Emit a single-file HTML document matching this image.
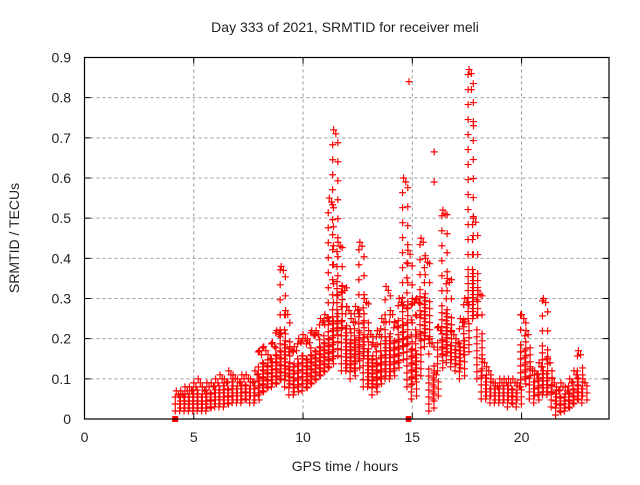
<!DOCTYPE html>
<html><head><meta charset="utf-8"><style>
body{margin:0;background:#fff;width:640px;height:480px;overflow:hidden}
text{font-family:"Liberation Sans",sans-serif;font-size:14px;fill:#222}
</style></head><body>
<svg id="chart" width="640" height="480">
<text x="345" y="32" text-anchor="middle">Day 333 of 2021, SRMTID for receiver meli</text>
<text x="345" y="471" text-anchor="middle">GPS time / hours</text>
<text transform="translate(19,238) rotate(-90)" text-anchor="middle">SRMTID / TECUs</text>
<g id="grid"></g>
<g id="marks"></g>
<rect x="84.5" y="57.5" width="524.5" height="361.5" fill="none" stroke="#000" stroke-width="1.2"/>
<g id="ticks"></g>
</svg>
<script>
const binTimes=[4.2,4.4,4.6,4.8,5.0,5.2,5.4,5.6,5.8,6.0,6.2,6.4,6.6,6.8,7.0,7.2,7.4,7.6,7.8,8.0,8.2,8.4,8.6,8.8,9.0,9.2,9.4,9.6,9.8,10.0,10.2,10.4,10.6,10.8,11.0,11.2,11.4,11.6,11.8,12.0,12.2,12.4,12.6,12.8,13.0,13.2,13.4,13.6,13.8,14.0,14.2,14.4,14.6,14.8,15.0,15.2,15.4,15.6,15.8,16.0,16.2,16.4,16.6,16.8,17.0,17.2,17.4,17.6,17.8,18.0,18.2,18.4,18.6,18.8,19.0,19.2,19.4,19.6,19.8,20.0,20.2,20.4,20.6,20.8,21.0,21.2,21.4,21.6,21.8,22.0,22.2,22.4,22.6,22.8];
const binLow=[.02,.02,.02,.02,.02,.02,.02,.02,.03,.03,.03,.03,.04,.04,.04,.04,.05,.04,.04,.06,.07,.08,.08,.09,.10,.08,.06,.06,.08,.07,.08,.09,.10,.11,.12,.13,.15,.22,.12,.12,.10,.12,.15,.08,.08,.06,.08,.10,.10,.10,.12,.14,.18,.08,.05,.10,.20,.18,.02,.05,.12,.16,.14,.13,.12,.10,.16,.25,.25,.10,.05,.05,.04,.04,.04,.04,.03,.04,.03,.08,.10,.05,.04,.06,.06,.06,.03,.01,.02,.02,.03,.04,.05,.04];
const binHigh=[.07,.07,.08,.08,.09,.10,.08,.09,.09,.10,.11,.10,.12,.11,.10,.11,.11,.10,.12,.17,.18,.16,.19,.22,.38,.27,.18,.18,.20,.21,.20,.22,.22,.25,.26,.55,.72,.44,.33,.28,.25,.28,.44,.30,.22,.19,.22,.25,.33,.27,.24,.30,.60,.42,.30,.30,.45,.40,.20,.12,.23,.52,.35,.22,.20,.25,.30,.87,.50,.32,.15,.13,.10,.09,.10,.10,.10,.10,.09,.26,.22,.13,.12,.14,.30,.15,.10,.08,.09,.08,.10,.12,.17,.10];
const outlierTimes=[14.85,16.0,16.0,17.7,17.8];
const outlierValues=[.84,.665,.59,.82,.73];
const xTicks=[0,5,10,15,20];
const yTicks=[0,0.1,0.2,0.3,0.4,0.5,0.6,0.7,0.8,0.9];
const yTickLabels=["0","0.1","0.2","0.3","0.4","0.5","0.6","0.7","0.8","0.9"];
const X0=84.5,X1=609,Y0=419,Y1=57.5,XMAX=24,YMAX=0.9;
const xs=t=>X0+t/XMAX*(X1-X0), ys=v=>Y0-v/YMAX*(Y0-Y1);
const NS="http://www.w3.org/2000/svg";
const grid=document.getElementById('grid'),ticks=document.getElementById('ticks'),marks=document.getElementById('marks');
function mk(tag,attrs,parent){const e=document.createElementNS(NS,tag);for(const k in attrs)e.setAttribute(k,attrs[k]);parent.appendChild(e);return e;}
xTicks.forEach(t=>{const x=xs(t);
 if(t>0){const g=mk('line',{x1:x,x2:x,y1:Y1,y2:Y0,stroke:'#999','stroke-dasharray':'3,3'},grid);
 
 }
 const tk=mk('path',{d:`M${x},${Y0}v-6M${x},${Y1}v6`,stroke:'#000'},ticks);
 
 
 const l=mk('text',{x:x,y:442,'text-anchor':'middle'},ticks);l.textContent=t;
 
 });
yTicks.forEach((v,i)=>{const y=ys(v);
 if(v>0&&v<0.9){const g=mk('line',{x1:X0,x2:X1,y1:y,y2:y,stroke:'#999','stroke-dasharray':'3,3'},grid);
 
 }
 const tk=mk('path',{d:`M${X0},${y}h6M${X1},${y}h-6`,stroke:'#000'},ticks);
 
 
 const l=mk('text',{x:71,y:y+5,'text-anchor':'end'},ticks);l.textContent=yTickLabels[i];
 
 });
function cross(x,y){return `M${x-3.5},${y}h7M${x},${y-3.5}v7`;}
binTimes.forEach((t,i)=>{let d='';const lo=binLow[i],hi=binHigh[i];
 const yl=ys(lo),yh=ys(hi),core=yl-Math.min(45,(yl-yh)*0.55);
 [0,0.1].forEach((dt,j)=>{const x=xs(t+dt)+(j?2:-1);
  let y=yl-j*3;
  while(y>=yh){d+=cross(x,y);y-=(y>core?7:15+j*4);}
  d+=cross(x+(j?-2:1),yh+j*4);});
 const p=mk('path',{d:d,stroke:'#f00','stroke-width':1.2,fill:'none'},marks);
 
 });
outlierTimes.forEach((t,i)=>{const p=mk('path',{d:cross(xs(t),ys(outlierValues[i])),stroke:'#f00','stroke-width':1.2},marks);
 
 });
const r1=mk('rect',{x:xs(4.15)-3,y:Y0-3,width:6,height:6,fill:'#f00'},marks);


const r2=mk('rect',{x:xs(14.7),y:Y0-3,width:xs(14.95)-xs(14.7),height:6,fill:'#f00'},marks);


</script>
</body></html>
